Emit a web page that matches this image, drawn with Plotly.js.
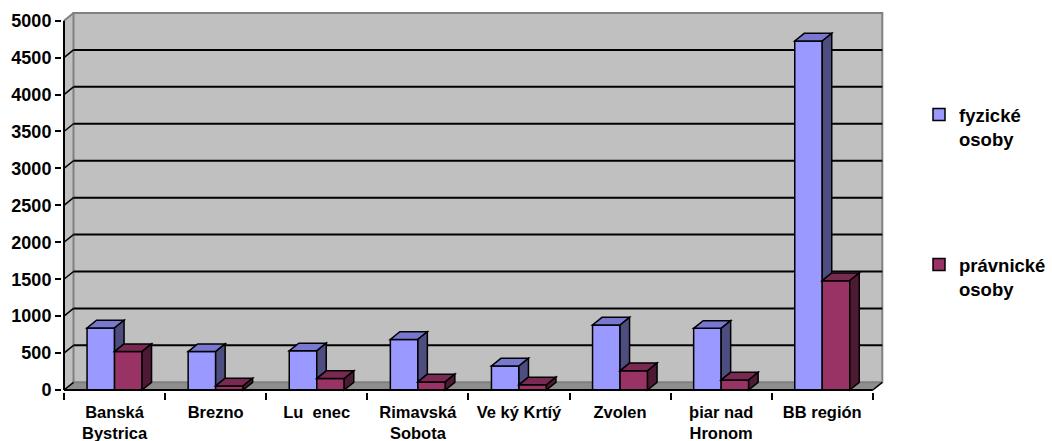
<!DOCTYPE html>
<html>
<head>
<meta charset="utf-8">
<script src="https://cdn.plot.ly/plotly-3.0.1.min.js"></script>
<style>html,body{margin:0;padding:0;background:#fff;}#chart{width:1052px;height:441px;}</style>
</head>
<body>
<div id="chart"></div>
<script>
// ---- data ----
const categories = ["Banská<br>Bystrica", "Brezno", "Lu\u00a0\u00a0enec", "Rimavská<br>Sobota", "Ve ký Krtíý", "Zvolen", "þiar nad<br>Hronom", "BB región"];
const fyzicke = [840, 520, 530, 685, 325, 880, 835, 4725];
const pravnicke = [520, 55, 155, 110, 70, 260, 135, 1480];
const seriesNames = ["fyzické<br>osoby", "právnické<br>osoby"];
const yTicks = [0, 500, 1000, 1500, 2000, 2500, 3000, 3500, 4000, 4500, 5000];

// ---- geometry (pixels) ----
const W = 1052, H = 441;
const M = {l: 62, r: 168, t: 11, b: 49, autoexpand: false};
const L0 = 64;          // front axis x pixel
const B0 = 390;         // zero line pixel
const C = 101.1;        // px per category
const K = 0.07386;      // px per value unit
const DXP = 9.5, DYP = 7.7; // depth offset px
const plotR = W - M.r, plotT = M.t;
const xRange = [-0.5 - (L0 - M.l) / C, -0.5 + (plotR - L0) / C];
const yRange = [-(H - M.b - B0) / K, (B0 - plotT) / K];
const DX = DXP / C, DY = DYP / K;
const BW = 27.5 / C;
const n = categories.length;
const yTop = yTicks[yTicks.length - 1];

const colors = {
  front: ["#9999FF", "#993366"],
  top: ["#7878D0", "#7A2952"],
  side: ["#4D4D80", "#4D1A33"]
};

function f(v) { return v.toFixed(4); }
function poly(pts) {
  return "M" + pts.map(p => f(p[0]) + "," + f(p[1])).join(" L") + " Z";
}

const shapes = [];
const x0e = -0.5, x1e = n - 0.5;
// left wall
shapes.push({type: "path", xref: "x", yref: "y", layer: "below",
  path: poly([[x0e, 0], [x0e + DX, DY], [x0e + DX, yTop + DY], [x0e, yTop]]),
  fillcolor: "#C0C0C0", line: {width: 0}});
// floor
shapes.push({type: "path", xref: "x", yref: "y", layer: "below",
  path: poly([[x0e, 0], [x1e, 0], [x1e + DX, DY], [x0e + DX, DY]]),
  fillcolor: "#8E8E8E", line: {color: "#808080", width: 1}});
// back wall
shapes.push({type: "rect", xref: "x", yref: "y", layer: "below",
  x0: x0e + DX, x1: x1e + DX, y0: DY, y1: yTop + DY,
  fillcolor: "#C0C0C0", line: {color: "#808080", width: 2}});
// gridlines and left-wall diagonals
yTicks.forEach(t => {
  const isTop = t === yTop;
  if (t > 0 && !isTop) {
    shapes.push({type: "line", xref: "x", yref: "y", layer: "below",
      x0: x0e + DX, x1: x1e + DX, y0: t + DY, y1: t + DY,
      line: {color: "#000", width: 2}});
  }
  shapes.push({type: "line", xref: "x", yref: "y", layer: "below",
    x0: x0e, x1: x0e + DX, y0: t, y1: t + DY,
    line: {color: isTop ? "#808080" : "#000", width: isTop ? 2 : 1.5}});
});

// bar tops and sides
const series = [fyzicke, pravnicke];
for (let i = 0; i < n; i++) {
  for (let s = 0; s < 2; s++) {
    const v = series[s][i];
    const bx0 = i + (s - 1) * BW, bx1 = bx0 + BW;
    shapes.push({type: "path", xref: "x", yref: "y", layer: "above",
      path: poly([[bx0, v], [bx1, v], [bx1 + DX, v + DY], [bx0 + DX, v + DY]]),
      fillcolor: colors.top[s], line: {color: "#000", width: 1.5}});
    let low = 0;
    if (s === 0) low = Math.min(v, Math.max(0, series[1][i]));
    if (v > low) {
      shapes.push({type: "path", xref: "x", yref: "y", layer: "above",
        path: poly([[bx1, low], [bx1 + DX, low + DY], [bx1 + DX, v + DY], [bx1, v]]),
        fillcolor: colors.side[s], line: {color: "#000", width: 1.5}});
    }
  }
}
// front axes
shapes.push({type: "line", xref: "x", yref: "y", layer: "above",
  x0: x0e, x1: x0e, y0: 0, y1: yTop, line: {color: "#000", width: 2}});
shapes.push({type: "line", xref: "x", yref: "y", layer: "above",
  x0: x0e, x1: x1e, y0: 0, y1: 0, line: {color: "#000", width: 2}});
shapes.push({type: "line", xref: "x", yref: "y", layer: "above",
  x0: x1e, x1: x1e + DX, y0: 0, y1: DY, line: {color: "#000", width: 1.5}});

const font = {family: "Liberation Sans, Arial, sans-serif", color: "#000", weight: "bold"};
const plotW = W - M.l - M.r, plotH = H - M.t - M.b;
function px2paperX(px) { return (px - M.l) / plotW; }
function px2paperY(py) { return (H - M.b - py) / plotH; }

const traces = [
  {type: "bar", x: categories, y: fyzicke, name: seriesNames[0], legend: "legend",
   marker: {color: colors.front[0], line: {color: "#000", width: 1.5}}, hoverinfo: "skip"},
  {type: "bar", x: categories, y: pravnicke, name: seriesNames[1], legend: "legend2",
   marker: {color: colors.front[1], line: {color: "#000", width: 1.5}}, hoverinfo: "skip"}
];

const legendBase = {xanchor: "left", yanchor: "top", valign: "top", bgcolor: "rgba(0,0,0,0)",
  borderwidth: 0, font: Object.assign({}, font, {size: 18.5}), itemclick: false, itemdoubleclick: false};

const layout = {
  width: W, height: H,
  margin: M,
  paper_bgcolor: "#fff", plot_bgcolor: "rgba(0,0,0,0)",
  barmode: "group", bargap: 1 - 2 * BW, bargroupgap: 0,
  showlegend: true,
  legend: Object.assign({}, legendBase, {x: px2paperX(919), y: px2paperY(96)}),
  legend2: Object.assign({}, legendBase, {x: px2paperX(919), y: px2paperY(246)}),
  xaxis: {type: "category", range: xRange, tickson: "boundaries", ticks: "outside",
    ticklen: 7, tickwidth: 2, tickcolor: "#000", showline: false, showgrid: false,
    zeroline: false, tickfont: Object.assign({}, font, {size: 16.5}), ticklabelstandoff: 8,
    fixedrange: true},
  yaxis: {type: "linear", range: yRange, tickmode: "array", tickvals: yTicks,
    ticktext: yTicks.map(String), ticks: "outside", ticklen: 6, tickwidth: 2, tickcolor: "#000",
    showline: false, showgrid: false, zeroline: false,
    tickfont: Object.assign({}, font, {size: 18}), fixedrange: true},
  shapes: shapes,
  hovermode: false
};

Plotly.newPlot("chart", traces, layout, {displayModeBar: false, staticPlot: true});
</script>
</body>
</html>
